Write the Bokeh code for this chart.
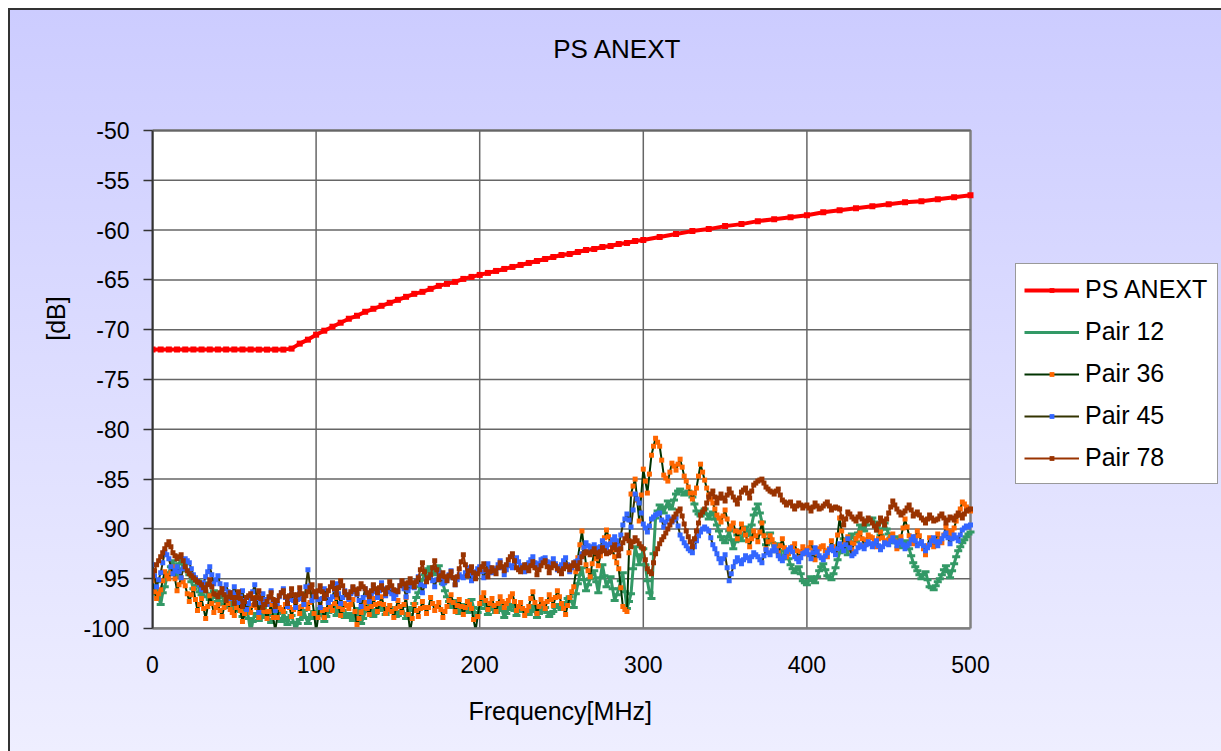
from bokeh.plotting import figure
from bokeh.models import Legend, LegendItem, Label, Range1d, FixedTicker, Title
from bokeh.embed import file_html
from bokeh.resources import INLINE

FONT = "Liberation Sans"

# ---------------- data ----------------
title_text = "PS ANEXT"
x_label = "Frequency[MHz]"
y_label = "[dB]"
x_ticks = [0, 100, 200, 300, 400, 500]
y_ticks = [-100, -95, -90, -85, -80, -75, -70, -65, -60, -55, -50]
series_names = ["PS ANEXT", "Pair 12", "Pair 36", "Pair 45", "Pair 78"]

ps_freq = [0, 5, 10, 15, 20, 25, 30, 35, 40, 45, 50, 55, 60, 65, 70, 75, 80,
           85, 90, 95, 100, 105, 110, 115, 120, 125, 130, 135, 140, 145, 150,
           155, 160, 165, 170, 175, 180, 185, 190, 195, 200, 205, 210, 215, 220,
           225, 230, 235, 240, 245, 250, 255, 260, 265, 270, 275, 280, 285, 290,
           295, 300, 310, 320, 330, 340, 350, 360, 370, 380, 390, 400, 410, 420,
           430, 440, 450, 460, 470, 480, 490, 500]
ps_anext = [-72.0, -72.0, -72.0, -72.0, -72.0, -72.0, -72.0, -72.0, -72.0,
            -72.0, -72.0, -72.0, -72.0, -72.0, -72.0, -72.0, -72.0,
            -71.9, -71.4, -71.0, -70.5, -70.1, -69.7, -69.3, -68.9, -68.6, -68.2,
            -67.9, -67.6, -67.3, -67.0, -66.7, -66.4, -66.2, -65.9, -65.6, -65.4,
            -65.2, -64.9, -64.7, -64.5, -64.3, -64.1, -63.9, -63.7, -63.5, -63.3,
            -63.1, -62.9, -62.7, -62.5, -62.4, -62.2, -62.0, -61.9, -61.7, -61.6,
            -61.4, -61.3, -61.1, -61.0,
            -60.7, -60.4, -60.1, -59.9, -59.6, -59.4, -59.1, -58.9, -58.7, -58.5,
            -58.2, -58.0, -57.8, -57.6, -57.4, -57.2, -57.1, -56.9, -56.7, -56.5]

# sweep points (MHz): main grid and the in-between points
freq = [0, 2.5, 5, 7.5, 10, 12.5, 15, 17.5, 20, 22.5, 25, 27.5, 30, 32.5, 35, 37.5,
        40, 42.5, 45, 47.5, 50, 52.5, 55, 57.5, 60, 62.5, 65, 67.5, 70, 72.5, 75, 77.5,
        80, 82.5, 85, 87.5, 90, 92.5, 95, 97.5, 100, 102.5, 105, 107.5, 110, 112.5,
        115, 117.5, 120, 122.5, 125, 127.5, 130, 132.5, 135, 137.5, 140, 142.5, 145,
        147.5, 150, 152.5, 155, 157.5, 160, 162.5, 165, 167.5, 170, 172.5, 175, 177.5,
        180, 182.5, 185, 187.5, 190, 192.5, 195, 197.5, 200, 202.5, 205, 207.5, 210,
        212.5, 215, 217.5, 220, 222.5, 225, 227.5, 230, 232.5, 235, 237.5, 240, 242.5,
        245, 247.5, 250, 252.5, 255, 257.5, 260, 262.5, 265, 267.5, 270, 272.5, 275,
        277.5, 280, 282.5, 285, 287.5, 290, 292.5, 295, 297.5, 300, 302.5, 305, 307.5,
        310, 312.5, 315, 317.5, 320, 322.5, 325, 327.5, 330, 332.5, 335, 337.5, 340,
        342.5, 345, 347.5, 350, 352.5, 355, 357.5, 360, 362.5, 365, 367.5, 370, 372.5,
        375, 377.5, 380, 382.5, 385, 387.5, 390, 392.5, 395, 397.5, 400, 402.5, 405,
        407.5, 410, 412.5, 415, 417.5, 420, 422.5, 425, 427.5, 430, 432.5, 435, 437.5,
        440, 442.5, 445, 447.5, 450, 452.5, 455, 457.5, 460, 462.5, 465, 467.5, 470,
        472.5, 475, 477.5, 480, 482.5, 485, 487.5, 490, 492.5, 495, 497.5, 500]

freq_mid = [1.25, 3.75, 6.25, 8.75, 11.25, 13.75, 16.25, 18.75, 21.25, 23.75,
            26.25, 28.75, 31.25, 33.75, 36.25, 38.75, 41.25, 43.75, 46.25, 48.75,
            51.25, 53.75, 56.25, 58.75, 61.25, 63.75, 66.25, 68.75, 71.25, 73.75,
            76.25, 78.75, 81.25, 83.75, 86.25, 88.75, 91.25, 93.75, 96.25, 98.75,
            101.25, 103.75, 106.25, 108.75, 111.25, 113.75, 116.25, 118.75, 121.25,
            123.75, 126.25, 128.75, 131.25, 133.75, 136.25, 138.75, 141.25, 143.75,
            146.25, 148.75, 151.25, 153.75, 156.25, 158.75, 161.25, 163.75, 166.25,
            168.75, 171.25, 173.75, 176.25, 178.75, 181.25, 183.75, 186.25, 188.75,
            191.25, 193.75, 196.25, 198.75, 201.25, 203.75, 206.25, 208.75, 211.25,
            213.75, 216.25, 218.75, 221.25, 223.75, 226.25, 228.75, 231.25, 233.75,
            236.25, 238.75, 241.25, 243.75, 246.25, 248.75, 251.25, 253.75, 256.25,
            258.75, 261.25, 263.75, 266.25, 268.75, 271.25, 273.75, 276.25, 278.75,
            281.25, 283.75, 286.25, 288.75, 291.25, 293.75, 296.25, 298.75, 301.25,
            303.75, 306.25, 308.75, 311.25, 313.75, 316.25, 318.75, 321.25, 323.75,
            326.25, 328.75, 331.25, 333.75, 336.25, 338.75, 341.25, 343.75, 346.25,
            348.75, 351.25, 353.75, 356.25, 358.75, 361.25, 363.75, 366.25, 368.75,
            371.25, 373.75, 376.25, 378.75, 381.25, 383.75, 386.25, 388.75, 391.25,
            393.75, 396.25, 398.75, 401.25, 403.75, 406.25, 408.75, 411.25, 413.75,
            416.25, 418.75, 421.25, 423.75, 426.25, 428.75, 431.25, 433.75, 436.25,
            438.75, 441.25, 443.75, 446.25, 448.75, 451.25, 453.75, 456.25, 458.75,
            461.25, 463.75, 466.25, 468.75, 471.25, 473.75, 476.25, 478.75, 481.25,
            483.75, 486.25, 488.75, 491.25, 493.75, 496.25, 498.75]

pair12 = [-96.5, -95.3, -97.6, -95.8, -94.4, -93.2, -94.8, -93.0,
          -93.5, -94.6, -96.0, -95.2, -96.6, -95.4, -97.1, -96.2,
          -97.3, -96.5, -97.9, -97.0, -98.2, -97.4, -98.8, -97.8,
          -100.4, -98.5, -99.2, -98.0, -98.6, -99.4, -98.1, -99.0,
          -98.4, -99.6, -98.7, -100.3, -99.1, -98.2, -99.5, -98.6,
          -98.9, -98.0, -99.3, -98.4, -97.8, -98.7, -97.5, -98.9,
          -98.5, -99.2, -98.0, -99.5, -98.3, -97.6, -98.8, -98.1,
          -97.7, -98.6, -97.9, -98.4, -98.7, -97.8, -99.0, -98.2,
          -97.5, -96.4, -95.1, -94.3, -93.8, -94.6, -93.7, -95.5,
          -96.8, -97.9, -97.2, -98.5, -97.6, -98.4, -97.1, -98.8,
          -98.0, -97.3, -98.6, -97.7, -98.4, -97.5, -98.9, -98.1,
          -97.6, -98.7, -97.9, -98.3, -98.6, -97.7, -98.9, -98.2,
          -97.9, -98.8, -98.3, -97.6, -98.1, -97.4, -96.8, -97.9,
          -95.5, -93.9, -96.2, -95.0, -94.2, -96.4, -93.6, -95.8,
          -94.8, -97.2, -96.0, -94.4, -98.0, -96.5, -91.8, -93.6,
          -92.0, -95.2, -97.0, -88.9, -87.6, -88.4, -87.2, -88.0,
          -86.5, -86.0, -86.6, -86.2, -86.8, -88.2, -88.7, -88.0,
          -89.0, -88.3, -89.6, -90.8, -91.4, -90.2, -92.0, -90.6,
          -91.2, -89.8, -90.7, -88.6, -87.5, -89.3, -91.6, -90.4,
          -92.3, -91.5, -93.0, -92.4, -93.6, -94.4, -93.8, -95.2,
          -95.6, -94.8, -95.4, -94.2, -93.5, -94.7, -95.1, -93.9,
          -92.4, -91.0, -92.6, -90.5, -91.3, -89.6, -90.2, -89.1,
          -88.9, -89.8, -90.6, -89.4, -90.5, -91.4, -90.8, -91.9,
          -91.2, -92.0, -93.4, -94.2, -95.0, -94.3, -95.8, -96.1,
          -95.3, -94.6, -93.7, -94.9, -93.5, -92.2, -91.4, -90.8,
          -90.3]
pair12_mid = [-96.0, -96.8, -96.4, -94.9, -93.8, -94.1, -93.5, -94.0,
              -94.2, -95.3, -95.7, -96.3, -95.9, -96.8, -96.5, -96.9,
              -96.9, -97.6, -97.4, -98.0, -97.7, -98.3, -98.1, -99.0,
              -99.3, -98.8, -98.6, -98.9, -99.1, -98.7, -98.5, -99.3,
              -99.0, -98.9, -99.4, -99.5, -98.6, -98.9, -99.0, -98.3,
              -98.4, -98.7, -98.8, -97.9, -98.3, -98.1, -98.2, -98.6,
              -98.9, -98.6, -98.8, -99.0, -97.9, -98.2, -98.5, -97.8,
              -98.2, -98.1, -98.3, -98.8, -98.3, -98.5, -98.6, -97.9,
              -96.9, -95.8, -94.6, -94.0, -94.2, -94.1, -94.4, -96.2,
              -97.3, -97.5, -97.8, -98.1, -98.0, -97.7, -97.9, -98.4,
              -97.6, -98.0, -98.1, -97.9, -97.9, -98.2, -98.5, -97.8,
              -98.2, -98.3, -98.1, -98.6, -98.1, -98.3, -98.5, -97.9,
              -98.4, -98.5, -97.9, -97.8, -97.7, -97.0, -97.3, -96.5,
              -94.6, -95.1, -95.6, -94.6, -95.3, -94.9, -94.7, -95.3,
              -96.0, -96.6, -95.2, -96.3, -97.3, -94.0, -92.6, -92.8,
              -93.6, -96.4, -92.5, -88.2, -88.0, -87.8, -87.6, -87.1,
              -86.2, -86.3, -86.4, -86.5, -87.5, -88.5, -88.3, -88.5,
              -88.6, -89.0, -90.2, -91.1, -90.8, -91.1, -91.3, -90.9,
              -90.5, -90.2, -89.6, -88.0, -88.4, -90.5, -91.0, -91.4,
              -91.9, -92.2, -92.7, -93.0, -94.0, -94.1, -94.5, -95.4,
              -95.2, -95.1, -94.8, -93.8, -94.1, -94.9, -94.5, -93.1,
              -91.7, -91.8, -91.5, -90.9, -90.4, -89.9, -89.6, -89.0,
              -89.3, -90.2, -90.0, -90.0, -90.9, -91.1, -91.3, -91.5,
              -91.6, -92.7, -93.8, -94.6, -94.6, -95.1, -95.9, -95.7,
              -95.0, -94.1, -94.3, -94.2, -92.8, -91.8, -91.1, -90.5]

pair36 = [-95.2, -97.0, -96.1, -94.3, -95.0, -93.8, -96.2, -94.9,
          -95.7, -97.3, -96.0, -98.2, -97.0, -99.0, -96.7, -98.4,
          -97.6, -98.8, -96.9, -98.1, -98.7, -97.2, -99.3, -97.8,
          -98.4, -96.9, -98.9, -97.5, -99.0, -97.6, -100.2, -97.9,
          -98.3, -97.0, -98.8, -97.4, -98.5, -97.1, -98.0, -96.8,
          -100.3, -97.6, -98.9, -97.3, -98.2, -96.9, -98.7, -97.5,
          -98.0, -97.1, -99.6, -98.4, -97.4, -98.6, -97.0, -98.3,
          -96.8, -98.5, -97.7, -98.9, -97.2, -98.4, -96.9, -100.3,
          -97.6, -98.8, -97.3, -98.5, -96.9, -98.2, -97.4, -98.9,
          -97.8, -96.6, -98.3, -97.1, -98.6, -97.3, -98.0, -100.2,
          -97.5, -96.4, -98.1, -97.0, -98.3, -96.8, -97.9, -97.2,
          -96.5, -98.2, -97.4, -98.7, -97.8, -96.3, -98.5, -97.1,
          -98.0, -96.6, -97.7, -96.2, -97.5, -98.6, -96.9, -95.8,
          -92.9, -90.2, -93.6, -94.8, -92.3, -93.7, -91.8, -90.1,
          -91.4, -92.8, -94.0, -97.8, -98.3, -86.5, -85.0, -89.2,
          -84.0, -86.4, -82.6, -80.9, -81.7, -84.6, -85.2, -83.4,
          -84.1, -83.0, -84.7, -85.8, -87.0, -85.9, -83.5, -85.1,
          -86.6, -87.4, -88.6, -89.3, -88.1, -90.0, -89.4, -91.0,
          -89.5, -90.6, -91.8, -90.2, -91.3, -89.4, -92.0, -90.7,
          -91.6, -92.4, -91.0, -92.8, -92.2, -91.5, -92.9, -91.8,
          -92.5, -91.4, -93.1, -92.0, -91.7, -92.8, -91.2, -92.3,
          -88.9, -91.6, -90.8, -92.1, -91.0, -90.4, -91.7, -90.6,
          -90.9, -91.8, -90.3, -91.4, -91.1, -90.5, -92.0, -90.8,
          -89.0, -90.7, -91.5, -90.2, -91.3, -92.6, -90.9, -91.8,
          -90.5, -91.4, -89.8, -90.6, -89.9, -88.6, -87.3, -87.8,
          -88.2]
pair36_mid = [-96.3, -96.5, -95.2, -94.7, -94.4, -95.0, -95.6, -95.3,
              -96.5, -96.6, -97.1, -97.6, -98.0, -97.8, -97.5, -97.9,
              -98.2, -97.9, -97.5, -98.4, -97.9, -98.2, -98.5, -98.1,
              -97.7, -97.9, -98.2, -98.3, -98.3, -98.9, -98.9, -98.1,
              -97.6, -97.9, -98.1, -97.9, -97.8, -97.6, -97.4, -98.5,
              -98.9, -98.2, -98.1, -97.8, -97.5, -97.8, -98.1, -97.7,
              -97.6, -98.3, -99.0, -97.9, -98.0, -97.8, -97.6, -97.5,
              -97.6, -98.1, -98.3, -98.0, -97.8, -97.6, -98.6, -99.0,
              -98.2, -98.0, -97.9, -97.9, -97.5, -97.8, -98.1, -98.3,
              -97.2, -97.4, -97.7, -97.8, -97.9, -97.6, -99.1, -98.8,
              -96.9, -97.2, -97.5, -97.7, -97.5, -97.3, -97.5, -96.8,
              -97.3, -97.8, -98.0, -98.2, -97.0, -97.4, -97.8, -97.5,
              -97.3, -97.1, -96.9, -96.8, -98.0, -97.7, -96.3, -94.3,
              -91.6, -91.9, -94.2, -93.5, -93.0, -92.7, -90.9, -90.8,
              -92.1, -93.4, -95.9, -98.1, -92.4, -85.7, -87.1, -86.6,
              -85.2, -84.5, -81.7, -81.3, -83.1, -84.9, -84.3, -83.7,
              -83.5, -83.8, -85.2, -86.4, -86.4, -84.7, -84.3, -85.9,
              -87.0, -88.0, -88.9, -88.7, -89.0, -89.7, -90.2, -90.3,
              -90.0, -91.2, -91.0, -90.7, -90.3, -90.7, -91.3, -91.1,
              -92.0, -91.7, -91.9, -92.5, -91.8, -92.2, -92.3, -92.1,
              -91.9, -92.2, -92.5, -91.8, -92.2, -92.0, -91.8, -90.6,
              -90.2, -91.2, -91.4, -91.5, -90.7, -91.0, -91.1, -90.8,
              -91.3, -91.0, -90.9, -91.2, -90.8, -91.2, -91.4, -89.9,
              -89.8, -91.1, -90.8, -90.7, -92.0, -91.7, -91.3, -91.2,
              -91.0, -90.6, -90.2, -90.3, -89.2, -88.0, -87.5, -88.0]

pair45 = [-93.6, -95.8, -94.4, -92.3, -93.0, -94.5, -93.8, -94.9,
          -93.0, -93.4, -94.6, -95.2, -96.1, -94.8, -93.8, -95.5,
          -94.7, -96.3, -95.6, -97.0, -95.8, -97.4, -96.2, -98.1,
          -97.0, -95.6, -98.4, -96.5, -97.6, -96.2, -98.2, -96.8,
          -96.0, -97.8, -96.5, -97.9, -96.4, -97.6, -94.1, -97.2,
          -96.3, -97.9, -96.0, -97.4, -96.8, -95.5, -97.5, -96.2,
          -97.1, -95.9, -96.6, -97.8, -96.0, -97.3, -95.7, -96.9,
          -95.4, -96.7, -95.9, -97.0, -96.2, -95.3, -96.8, -95.6,
          -95.9, -94.8, -96.4, -95.1, -94.7, -95.8, -94.4, -95.5,
          -95.0, -94.2, -95.6, -94.6, -94.9, -93.9, -95.2, -94.3,
          -93.8, -94.9, -93.5, -94.4, -94.0, -93.2, -94.6, -93.6,
          -93.9, -92.9, -93.7, -94.3, -93.4, -92.8, -93.9, -93.1,
          -92.9, -93.7, -93.0, -94.1, -93.6, -92.9, -94.3, -93.5,
          -93.2, -92.5, -91.4, -92.0, -91.6, -92.3, -91.2, -91.9,
          -91.5, -90.8, -91.7, -89.6, -88.5, -89.8, -86.5, -87.4,
          -89.5, -90.3, -89.0, -88.6, -88.4, -89.8, -88.8, -89.3,
          -88.9, -90.6, -91.4, -92.0, -92.4, -91.2, -90.3, -89.8,
          -90.2, -91.6, -92.5, -93.4, -92.6, -95.2, -93.8, -92.9,
          -93.5, -92.7, -93.2, -92.4, -92.8, -93.4, -92.1, -92.6,
          -91.8, -92.7, -93.2, -92.3, -91.9, -92.8, -93.3, -92.5,
          -92.2, -93.0, -91.9, -92.7, -93.1, -92.4, -91.8, -92.6,
          -91.5, -92.2, -91.0, -92.7, -92.3, -91.6, -92.0, -91.3,
          -91.8, -91.2, -92.1, -91.4, -91.6, -90.9, -91.7, -91.2,
          -92.0, -91.5, -90.8, -91.7, -91.3, -92.2, -91.6, -90.9,
          -91.7, -91.0, -90.4, -91.5, -90.6, -91.2, -90.1, -89.7,
          -89.6]
pair45_mid = [-94.7, -95.1, -93.4, -92.6, -93.8, -94.2, -94.3, -94.0,
              -93.2, -94.0, -94.9, -95.6, -95.4, -94.3, -94.6, -95.1,
              -95.5, -96.0, -96.3, -96.4, -96.6, -96.8, -97.2, -97.5,
              -96.3, -97.0, -97.4, -97.1, -96.9, -97.2, -97.5, -96.4,
              -96.9, -97.1, -97.2, -97.1, -97.0, -95.8, -95.7, -96.8,
              -97.1, -97.0, -96.7, -97.1, -96.1, -96.5, -96.9, -96.6,
              -96.5, -96.3, -97.2, -96.9, -96.6, -96.5, -96.3, -96.2,
              -96.0, -96.3, -96.5, -96.6, -95.7, -96.0, -96.2, -95.8,
              -95.3, -95.6, -95.7, -94.9, -95.2, -95.1, -94.9, -95.3,
              -94.6, -94.9, -95.1, -94.8, -94.4, -94.5, -94.7, -94.0,
              -94.3, -94.2, -93.9, -94.2, -93.6, -93.9, -94.1, -93.7,
              -93.4, -93.3, -94.0, -93.6, -93.1, -93.4, -93.5, -93.0,
              -93.3, -93.4, -93.5, -93.8, -93.2, -93.6, -93.9, -93.3,
              -92.9, -91.9, -91.7, -91.8, -91.9, -91.8, -91.5, -91.6,
              -91.1, -91.2, -90.6, -89.0, -89.1, -88.1, -87.0, -88.4,
              -89.9, -89.7, -88.8, -88.5, -89.1, -89.3, -89.0, -89.1,
              -89.7, -91.0, -91.7, -92.2, -91.8, -90.7, -90.0, -90.0,
              -90.9, -92.0, -93.0, -93.0, -93.9, -94.5, -93.3, -93.2,
              -93.1, -92.9, -92.8, -92.6, -93.1, -92.7, -92.4, -92.2,
              -92.2, -93.0, -92.8, -92.1, -92.3, -93.0, -92.9, -92.4,
              -92.6, -92.4, -92.3, -92.9, -92.7, -92.1, -92.2, -92.0,
              -91.8, -91.6, -91.9, -92.5, -91.9, -91.8, -91.6, -91.5,
              -91.5, -91.7, -91.8, -91.5, -91.2, -91.3, -91.4, -91.6,
              -91.7, -91.1, -91.2, -91.5, -91.7, -91.9, -91.2, -91.3,
              -91.3, -90.7, -90.9, -91.0, -90.9, -90.6, -89.9, -89.8]

pair78 = [-94.8, -93.6, -92.8, -92.0, -91.3, -92.4, -93.0, -92.6,
          -93.8, -94.5, -94.9, -95.3, -95.6, -96.2, -95.1, -96.5,
          -96.8, -96.0, -97.2, -96.4, -97.5, -96.3, -97.8, -96.9,
          -96.5, -97.6, -96.2, -97.9, -97.3, -96.4, -97.8, -96.7,
          -96.2, -97.5, -96.0, -97.3, -95.9, -97.1, -96.3, -95.6,
          -96.8, -95.7, -97.0, -96.2, -95.4, -96.6, -95.2, -96.3,
          -96.9, -95.8, -96.5, -95.5, -96.0, -96.8, -95.6, -96.4,
          -95.7, -96.5, -95.3, -96.1, -96.3, -95.2, -95.9, -95.0,
          -95.8, -94.9, -93.4, -95.3, -94.6, -93.2, -95.1, -94.4,
          -95.2, -94.3, -95.6, -94.0, -92.6, -94.7, -93.8, -95.0,
          -94.1, -93.5, -94.8, -93.9, -94.5, -93.4, -94.2, -93.1,
          -92.5, -93.9, -94.3, -93.6, -94.2, -93.3, -94.6, -93.7,
          -93.2, -94.4, -93.5, -94.0, -94.5, -93.6, -94.1, -93.4,
          -94.0, -92.8, -92.3, -92.6, -92.0, -92.8, -91.9, -92.5,
          -92.3, -91.6, -92.7, -91.4, -90.6, -91.8, -90.9, -91.5,
          -92.0, -94.0, -94.5, -92.5, -91.5, -90.8, -90.0, -89.2,
          -88.5, -88.0, -89.5, -90.8, -91.8, -90.2, -88.6, -88.0,
          -86.8, -86.2, -87.4, -86.5, -87.2, -86.0, -86.8, -87.5,
          -86.3, -85.9, -86.9, -85.6, -85.2, -85.0, -85.8, -86.2,
          -86.5, -86.0, -87.1, -87.6, -87.3, -88.0, -87.4, -87.9,
          -87.6, -88.2, -87.4, -88.0, -87.7, -87.3, -88.1, -87.8,
          -88.0, -89.6, -88.3, -88.8, -89.2, -88.5, -89.5, -88.9,
          -89.4, -90.1, -88.9, -89.6, -88.4, -87.2, -88.0, -88.6,
          -88.2, -87.6, -88.7, -88.3, -88.9, -89.4, -88.6, -89.2,
          -89.0, -88.5, -89.4, -88.8, -89.1, -88.4, -88.9, -88.2,
          -88.0]
pair78_mid = [-94.2, -93.2, -92.4, -91.6, -91.8, -92.7, -92.8, -93.2,
              -94.2, -94.7, -95.1, -95.4, -95.9, -95.6, -95.8, -96.6,
              -96.4, -96.6, -96.8, -96.9, -96.9, -97.0, -97.3, -96.7,
              -97.0, -96.9, -97.0, -97.6, -96.8, -97.1, -97.2, -96.4,
              -96.8, -96.7, -96.6, -96.6, -96.5, -96.7, -95.9, -96.3,
              -96.2, -96.3, -96.6, -95.8, -96.0, -95.9, -95.7, -96.6,
              -96.3, -96.1, -96.0, -95.8, -96.4, -96.2, -96.0, -95.9,
              -96.1, -95.9, -95.7, -96.2, -95.7, -95.5, -95.4, -95.4,
              -95.3, -94.1, -94.3, -94.9, -93.9, -94.1, -94.7, -94.8,
              -94.7, -94.9, -94.8, -93.3, -93.6, -94.2, -94.4, -94.5,
              -93.8, -94.1, -94.3, -94.2, -93.9, -93.8, -93.6, -92.8,
              -93.2, -94.1, -93.9, -93.9, -93.7, -93.9, -94.1, -93.4,
              -93.8, -93.9, -93.7, -94.2, -94.0, -93.8, -93.7, -93.7,
              -93.4, -92.5, -92.4, -92.3, -92.4, -92.3, -92.2, -92.4,
              -91.9, -92.1, -92.0, -91.0, -91.2, -91.3, -91.2, -91.8,
              -93.1, -94.3, -93.4, -92.0, -91.1, -90.4, -89.6, -88.8,
              -88.2, -88.7, -90.2, -91.3, -91.0, -89.4, -88.3, -87.4,
              -86.5, -86.8, -86.9, -86.9, -86.6, -86.4, -87.1, -86.9,
              -86.1, -86.4, -86.2, -85.4, -85.1, -85.4, -86.0, -86.3,
              -86.2, -86.6, -87.3, -87.4, -87.7, -87.7, -87.6, -87.7,
              -87.9, -87.8, -87.7, -87.9, -87.5, -87.7, -87.9, -87.9,
              -88.8, -89.0, -88.5, -89.0, -88.8, -89.0, -89.2, -89.1,
              -89.7, -89.5, -89.2, -89.0, -87.8, -87.6, -88.3, -88.4,
              -87.9, -88.1, -88.5, -88.6, -89.1, -89.0, -88.9, -89.1,
              -88.7, -88.9, -89.1, -88.9, -88.7, -88.6, -88.5, -88.1]


def sweep(xa, ya, xb, yb):
    """Merge the two sets of sweep readings into one frequency-ordered trace."""
    pts = sorted(zip(list(xa) + list(xb), list(ya) + list(yb)))
    return [q[0] for q in pts], [q[1] for q in pts]


f12, v12 = sweep(freq, pair12, freq_mid, pair12_mid)
f36, v36 = sweep(freq, pair36, freq_mid, pair36_mid)
f45, v45 = sweep(freq, pair45, freq_mid, pair45_mid)
f78, v78 = sweep(freq, pair78, freq_mid, pair78_mid)

# ---------------- layout geometry (pixels) ----------------
FIG_W, FIG_H = 1213, 743
BORDER_L, BORDER_B = 144, 123
PLOT_W, PLOT_H = 818, 498          # size of the white plot area
frame_w = FIG_W - BORDER_L
frame_h = FIG_H - BORDER_B
x0, x1 = x_ticks[0], x_ticks[-1]
y0, y1 = y_ticks[0], y_ticks[-1]
x_end = x0 + (x1 - x0) * frame_w / PLOT_W
y_end = y0 + (y1 - y0) * frame_h / PLOT_H

p = figure(width=FIG_W, height=FIG_H, output_backend="svg", toolbar_location=None,
           x_range=Range1d(x0, x_end), y_range=Range1d(y0, y_end),
           min_border_left=BORDER_L, min_border_right=0,
           min_border_top=0, min_border_bottom=BORDER_B)
p.styles = {"margin-left": "8px", "margin-top": "8px",
            "background-image": "linear-gradient(to bottom, #CCCCFF, #EEEEFF)",
            "box-shadow": "inset 2px 2px 0 0 #333333"}
p.border_fill_alpha = 0
p.background_fill_alpha = 0
p.outline_line_color = None
p.xgrid.visible = False
p.ygrid.visible = False

# plot area (white) + grid
p.quad(left=[x0], right=[x1], bottom=[y0], top=[y1], fill_color="white",
       line_color="#808080", line_width=2.5)
p.segment(x0=[x0] * (len(y_ticks) - 1), x1=[x1] * (len(y_ticks) - 1),
          y0=y_ticks[1:], y1=y_ticks[1:], line_color="#666666", line_width=1.5)
p.segment(x0=x_ticks[1:-1], x1=x_ticks[1:-1],
          y0=[y0] * (len(x_ticks) - 2), y1=[y1] * (len(x_ticks) - 2),
          line_color="#666666", line_width=1.5)

p.xaxis.ticker = FixedTicker(ticks=x_ticks)
p.yaxis.ticker = FixedTicker(ticks=y_ticks)
p.xaxis.bounds = (x0, x1)
p.yaxis.bounds = (y0, y1)
p.xaxis.major_label_overrides = {t: str(t) for t in x_ticks}
p.yaxis.major_label_overrides = {t: str(t) for t in y_ticks}

for ax in (p.xaxis[0], p.yaxis[0]):
    ax.major_label_text_font = FONT
    ax.major_label_text_font_size = "23px"
    ax.major_label_text_color = "black"
    ax.axis_label_text_font = FONT
    ax.axis_label_text_font_size = "25px"
    ax.axis_label_text_font_style = "normal"
    ax.axis_label_text_color = "black"
    ax.minor_tick_line_color = None

p.xaxis.axis_line_color = "#808080"
p.xaxis.axis_line_width = 2.5
p.xaxis.major_tick_line_color = None
p.xaxis.major_label_standoff = 21

p.yaxis.axis_label = y_label
p.yaxis.axis_line_color = "#333333"
p.yaxis.axis_line_width = 2
p.yaxis.major_tick_line_color = "#333333"
p.yaxis.major_tick_line_width = 1.5
p.yaxis.major_tick_in = 0
p.yaxis.major_tick_out = 9
p.yaxis.major_label_standoff = 14
p.yaxis.axis_label_standoff = 10

# x-axis title, centred under the white plot area
p.add_layout(Title(text=x_label, align="left", offset=316, standoff=39,
                   text_font=FONT, text_font_size="25px", text_font_style="normal",
                   text_color="black"), "below")

# series
r0l = p.line(ps_freq, ps_anext, line_color="#FF0000", line_width=4)
r0m = p.scatter(ps_freq, ps_anext, marker="square", size=6, fill_color="#FF0000", line_color=None)

r1l = p.line(f12, v12, line_color="#339966", line_width=3)
r1m = p.scatter(f12, v12, marker="dash", size=8, line_color="#339966", line_width=3)

r2l = p.line(f36, v36, line_color="#003300", line_width=2)
r2m = p.scatter(f36, v36, marker="square", size=5, fill_color="#FF6600", line_color=None)

r3l = p.line(f45, v45, line_color="#333300", line_width=2)
r3m = p.scatter(f45, v45, marker="square", size=5, fill_color="#3366FF", line_color=None)

r4l = p.line(f78, v78, line_color="#993300", line_width=2)
r4m = p.scatter(f78, v78, marker="square", size=5, fill_color="#993300", line_color=None)

items = [LegendItem(label=series_names[0], renderers=[r0l, r0m]),
         LegendItem(label=series_names[1], renderers=[r1l, r1m]),
         LegendItem(label=series_names[2], renderers=[r2l, r2m]),
         LegendItem(label=series_names[3], renderers=[r3l, r3m]),
         LegendItem(label=series_names[4], renderers=[r4l, r4m])]
legend = Legend(items=items, location=(863, 144), margin=0, padding=8,
                spacing=7, glyph_width=55, glyph_height=12, label_height=35,
                label_width=124, label_standoff=6, label_text_font=FONT,
                label_text_font_size="25px", label_text_color="black",
                border_line_color="#333333", border_line_width=1.5,
                background_fill_color="white", background_fill_alpha=1.0)
p.add_layout(legend)

p.add_layout(Label(x=465, y=580, x_units="screen", y_units="screen", text=title_text,
                   text_align="center", text_baseline="middle", text_font=FONT,
                   text_font_size="26px", text_color="black"))

open("out.html", "w").write(file_html(p, INLINE))
